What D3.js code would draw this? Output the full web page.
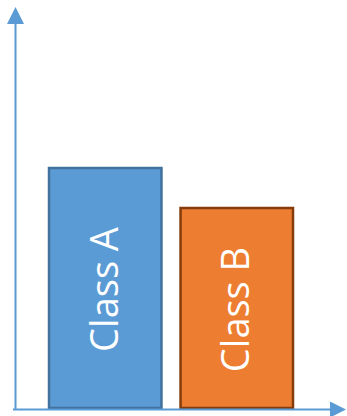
<!DOCTYPE html>
<html>
<head>
<meta charset="utf-8">
<script src="https://cdn.jsdelivr.net/npm/d3@7"></script>
<style>
  html, body { margin: 0; padding: 0; background: #ffffff; }
  svg { display: block; }
</style>
</head>
<body>
<script>
// Two classes and their (unitless) magnitudes
const categories = ["Class A", "Class B"];
const values = [6, 5];
const fills = ["#5b9bd5", "#ed7d31"];
const strokes = ["#41719c", "#843c0c"];

const width = 347, height = 416;
const axisColor = "#5b9bd5";

const svg = d3.select("body").append("svg")
  .attr("width", width)
  .attr("height", height);

const x = d3.scaleBand()
  .domain(categories)
  .range([49, 293])
  .paddingInner(0.145)
  .paddingOuter(0);

const y = d3.scaleLinear()
  .domain([0, 10])
  .range([408, 8]);

// Bars
svg.selectAll("rect.bar")
  .data(categories)
  .join("rect")
  .attr("class", "bar")
  .attr("x", d => x(d))
  .attr("y", (d, i) => y(values[i]))
  .attr("width", x.bandwidth())
  .attr("height", (d, i) => y(0) - y(values[i]))
  .attr("fill", (d, i) => fills[i])
  .attr("stroke", (d, i) => strokes[i])
  .attr("stroke-width", 2.5);

// Rotated labels inside the bars
svg.selectAll("text.label")
  .data(categories)
  .join("text")
  .attr("class", "label")
  .attr("transform", (d, i) => {
    const cx = x(d) + x.bandwidth() / 2 + 12.5;
    const cy = (y(values[i]) + y(0)) / 2 + 1.5;
    return `translate(${cx},${cy}) rotate(-90)`;
  })
  .attr("text-anchor", "middle")
  .attr("fill", "#ffffff")
  .style("font-family", "'Open Sans', 'Noto Sans', sans-serif")
  .style("font-size", "38px")
  .text(d => d);

// Axes with arrowheads
const ax = 15.5, ay = 409.5;
svg.append("line")
  .attr("x1", ax).attr("y1", ay + 0.5)
  .attr("x2", ax).attr("y2", 20)
  .attr("stroke", axisColor).attr("stroke-width", 2);
svg.append("path")
  .attr("d", `M${ax},7 L${ax + 8.5},24 L${ax - 8.5},24 Z`)
  .attr("fill", axisColor);

svg.append("line")
  .attr("x1", 13).attr("y1", ay)
  .attr("x2", 334).attr("y2", ay)
  .attr("stroke", axisColor).attr("stroke-width", 2);
svg.append("path")
  .attr("d", `M346,${ay} L330,${ay - 8} L330,${ay + 8} Z`)
  .attr("fill", axisColor);
</script>
</body>
</html>
